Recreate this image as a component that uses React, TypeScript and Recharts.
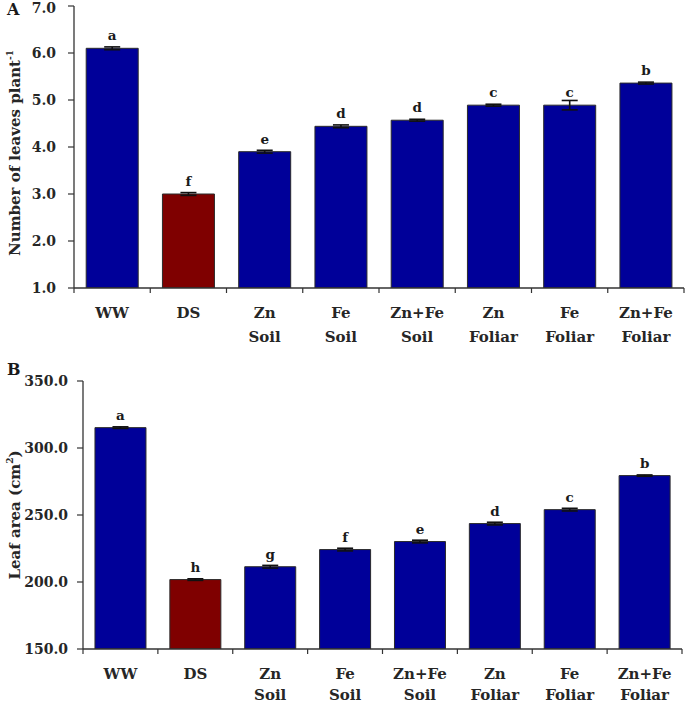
import React from "react";
import { BarChart, Bar, XAxis, YAxis, ErrorBar, LabelList, Cell } from "recharts";

const categories = ["WW", "DS", "Zn Soil", "Fe Soil", "Zn+Fe Soil", "Zn Foliar", "Fe Foliar", "Zn+Fe Foliar"];

const leavesMean = [6.1, 3.0, 3.9, 4.44, 4.57, 4.89, 4.89, 5.36];
const leavesErr = [0.03, 0.03, 0.03, 0.03, 0.02, 0.02, 0.1, 0.02];
const leavesLetters = ["a", "f", "e", "d", "d", "c", "c", "b"];
const leavesTicks = [1, 2, 3, 4, 5, 6, 7];

const areaMean = [315.2, 201.8, 211.4, 224.2, 230.2, 243.6, 254.0, 279.4];
const areaErr = [0.6, 0.6, 1.0, 1.0, 1.0, 1.0, 1.0, 0.5];
const areaLetters = ["a", "h", "g", "f", "e", "d", "c", "b"];
const areaTicks = [150, 200, 250, 300, 350];

const leavesData = categories.map((name, i) => ({
  name,
  value: leavesMean[i],
  err: leavesErr[i],
  letter: leavesLetters[i],
}));

const areaData = categories.map((name, i) => ({
  name,
  value: areaMean[i],
  err: areaErr[i],
  letter: areaLetters[i],
}));

const FONT = "'DejaVu Serif', serif";
const BLUE = "#000099";
const RED = "#7f0000";
const AXIS = "#333333";

const CategoryTick = (props: any) => {
  const { x, y, payload, index, step, count, lineGap } = props;
  const lines = String(payload.value).split(" ");
  const left = x - step / 2;
  const right = x + step / 2;
  return (
    <g>
      <line x1={left} x2={left} y1={y} y2={y + 5} stroke={AXIS} strokeWidth={1.2} />
      {index === count - 1 && (
        <line x1={right} x2={right} y1={y} y2={y + 5} stroke={AXIS} strokeWidth={1.2} />
      )}
      {lines.map((t, i) => (
        <text
          key={i}
          x={x}
          y={y + 30 + i * lineGap}
          textAnchor="middle"
          fontFamily={FONT}
          fontWeight="bold"
          fontSize={15}
          fill="#262626"
        >
          {t}
        </text>
      ))}
    </g>
  );
};

type PanelProps = {
  data: any[];
  top: number;
  height: number;
  marginTop: number;
  xAxisHeight: number;
  yWidth: number;
  marginRight: number;
  domain: [number, number];
  ticks: number[];
  tickMargin: number;
  lineGap: number;
  label: React.ReactNode;
  labelCenterShift: number;
};

function Panel(p: PanelProps) {
  const width = 685;
  const step = (width - p.yWidth - p.marginRight) / categories.length;
  return (
    <div style={{ position: "absolute", left: 0, top: p.top }}>
      <BarChart
        width={width}
        height={p.height}
        data={p.data}
        margin={{ top: p.marginTop, right: p.marginRight, left: 0, bottom: 0 }}
        barCategoryGap="16%"
      >
        <XAxis
          dataKey="name"
          interval={0}
          height={p.xAxisHeight}
          tickSize={0}
          tickMargin={0}
          tickLine={false}
          axisLine={{ stroke: AXIS, strokeWidth: 1.3 }}
          tick={<CategoryTick step={step} count={categories.length} lineGap={p.lineGap} />}
        />
        <YAxis
          width={p.yWidth}
          domain={p.domain}
          ticks={p.ticks}
          allowDataOverflow
          tickFormatter={(v: number) => v.toFixed(1)}
          tickSize={6}
          tickMargin={p.tickMargin}
          axisLine={{ stroke: AXIS, strokeWidth: 1.3 }}
          tickLine={{ stroke: AXIS, strokeWidth: 1.2 }}
          tick={{ fontFamily: FONT, fontWeight: "bold", fontSize: 14, fill: "#262626" }}
          label={{
            content: ({ viewBox }: any) => {
              const cy = viewBox.y + viewBox.height / 2 + p.labelCenterShift;
              return (
                <text
                  x={15}
                  y={cy}
                  transform={`rotate(-90, 15, ${cy})`}
                  textAnchor="middle"
                  dominantBaseline="central"
                  fontFamily={FONT}
                  fontWeight="bold"
                  fontSize={15}
                  fill="#262626"
                >
                  {p.label}
                </text>
              );
            },
          }}
        />
        <Bar dataKey="value" stroke="#2b2b2b" strokeWidth={1} isAnimationActive={false}>
          {p.data.map((d, i) => (
            <Cell key={i} fill={d.name === "DS" ? RED : BLUE} />
          ))}
          <ErrorBar dataKey="err" direction="y" width={8} stroke="#111" strokeWidth={1.6} />
          <LabelList
            dataKey="letter"
            position="top"
            offset={8}
            style={{ fontFamily: FONT, fontWeight: "bold", fontSize: 13.5, fill: "#1a1a1a" }}
          />
        </Bar>
      </BarChart>
    </div>
  );
}

export default function App() {
  const panelLetter: React.CSSProperties = {
    position: "absolute",
    fontFamily: FONT,
    fontWeight: "bold",
    fontSize: 16,
    color: "#1a1a1a",
    lineHeight: 1,
  };
  return (
    <div style={{ position: "absolute", left: 0, top: 0, width: 685, height: 703, background: "#fff", overflow: "hidden" }}>
      <Panel
        data={leavesData}
        top={0}
        height={350}
        marginTop={6}
        xAxisHeight={62}
        yWidth={74}
        marginRight={1}
        domain={[1, 7]}
        ticks={leavesTicks}
        tickMargin={12}
        lineGap={24}
        labelCenterShift={6}
        label={
          <>
            Number of leaves plant
            <tspan dy={-5} fontSize={9}>-1</tspan>
          </>
        }
      />
      <Panel
        data={areaData}
        top={355}
        height={348}
        marginTop={26}
        xAxisHeight={54}
        yWidth={83}
        marginRight={3}
        domain={[150, 350]}
        ticks={areaTicks}
        tickMargin={9}
        lineGap={21}
        labelCenterShift={0}
        label={
          <>
            Leaf area (cm
            <tspan dy={-5} fontSize={9}>2</tspan>
            <tspan dy={5}>)</tspan>
          </>
        }
      />
      <div style={{ ...panelLetter, left: 7, top: 2 }}>A</div>
      <div style={{ ...panelLetter, left: 7, top: 362 }}>B</div>
    </div>
  );
}
